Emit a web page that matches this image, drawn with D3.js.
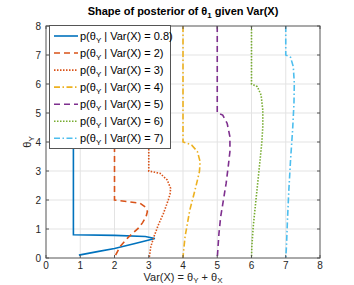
<!DOCTYPE html>
<html><head><meta charset="utf-8">
<script src="https://cdn.jsdelivr.net/npm/d3@7"></script>
<style>body{margin:0;background:#fff}svg{display:block;font-family:"Liberation Sans",Arial,sans-serif}</style>
</head><body><svg id="c" width="354" height="285"></svg>
<script>
const varX = [0.8, 2, 3, 4, 5, 6, 7];
const legendLabels = ["0.8", "2", "3", "4", "5", "6", "7"];
const xTicks = [0,1,2,3,4,5,6,7,8];
const yTicks = [0,1,2,3,4,5,6,7,8];
// curve points: x = Var(X) + scaled density, y = theta_Y
const c08x = [0.8, 0.8, 2.0, 2.9, 3.18, 2.6, 2.0, 1.5, 0.96];
const c08y = [8, 0.8, 0.78, 0.74, 0.67, 0.5, 0.33, 0.22, 0.1];
const c2x = [2, 2, 2.74, 2.9, 2.96, 2.92, 2.82, 2.69, 2.4, 2.16, 2.01, 2.0];
const c2y = [8, 2, 1.89, 1.76, 1.6, 1.42, 1.22, 1.02, 0.71, 0.39, 0.05, 0];
const c3x = [3, 3, 3.33, 3.54, 3.64, 3.62, 3.57, 3.43, 3.28, 3.15, 3.06, 3.02, 3.0];
const c3y = [8, 3, 2.92, 2.69, 2.4, 2.2, 2.0, 1.54, 1.14, 0.73, 0.39, 0.05, 0];
const c4x = [4, 4, 4.25, 4.42, 4.5, 4.48, 4.4, 4.3, 4.2, 4.13, 4.06, 4.01, 4.0];
const c4y = [8, 4, 3.9, 3.67, 3.32, 2.98, 2.58, 2.11, 1.66, 1.2, 0.73, 0.16, 0];
const c5x = [5, 5, 5.16, 5.29, 5.37, 5.37, 5.32, 5.26, 5.18, 5.1, 5.05, 5.01, 5.0];
const c5y = [8, 5, 4.93, 4.64, 4.18, 3.67, 3.15, 2.58, 2.0, 1.42, 0.85, 0.16, 0];
const c6x = [6, 6, 6.17, 6.28, 6.33, 6.33, 6.3, 6.25, 6.2, 6.15, 6.1, 6.05, 6.01, 6.0];
const c6y = [8, 6, 5.91, 5.62, 5.1, 4.53, 3.96, 3.38, 2.8, 2.23, 1.66, 1.08, 0.39, 0];
const c7x = [7, 7, 7.14, 7.22, 7.25, 7.24, 7.2, 7.14, 7.09, 7.05, 7.02, 7.0];
const c7y = [8, 7, 6.92, 6.6, 6.02, 5.33, 4.41, 3.38, 2.34, 1.31, 0.39, 0];

const curvesX = [c08x, c2x, c3x, c4x, c5x, c6x, c7x];
const curvesY = [c08y, c2y, c3y, c4y, c5y, c6y, c7y];
const colors = ["#0072BD", "#D95319", "#D95319", "#EDB120", "#7E2F8E", "#77AC30", "#4DBEEE"];
const dashes = [null, "6,4", "1.5,1.5", "6,2.5,1.5,2.5", "6,4", "1.5,1.5", "6,2.5,1.5,2.5"];

const svg = d3.select("#c");
const L = 46, R = 320, T = 26, B = 258;
const x = d3.scaleLinear().domain([0, 8]).range([L, R]);
const y = d3.scaleLinear().domain([0, 8]).range([B, T]);
const axCol = "#262626";

// grid
svg.append("g").selectAll("line").data(xTicks.slice(1, -1)).join("line")
  .attr("x1", d => x(d)).attr("x2", d => x(d)).attr("y1", T).attr("y2", B)
  .attr("stroke", "#e3e3e3").attr("stroke-width", 1);
svg.append("g").selectAll("line").data(yTicks.slice(1, -1)).join("line")
  .attr("y1", d => y(d)).attr("y2", d => y(d)).attr("x1", L).attr("x2", R)
  .attr("stroke", "#e3e3e3").attr("stroke-width", 1);

// curves
const line = d3.line().x(d => x(d[0])).y(d => y(d[1]));
curvesX.forEach((cx, i) => {
  const pts = cx.map((v, j) => [v, curvesY[i][j]]);
  svg.append("path").attr("d", line(pts)).attr("fill", "none")
    .attr("stroke", colors[i]).attr("stroke-width", 1.6)
    .attr("stroke-dasharray", dashes[i]);
});

// axes (ticks inside)
const ax = svg.append("g").attr("stroke", "#555").attr("stroke-width", 1).attr("fill", "none");
ax.append("rect").attr("x", L).attr("y", T).attr("width", R - L).attr("height", B - T);
xTicks.forEach(t => {
  ax.append("line").attr("x1", x(t)).attr("x2", x(t)).attr("y1", B).attr("y2", B - 3);
  ax.append("line").attr("x1", x(t)).attr("x2", x(t)).attr("y1", T).attr("y2", T + 3);
});
yTicks.forEach(t => {
  ax.append("line").attr("y1", y(t)).attr("y2", y(t)).attr("x1", L).attr("x2", L + 3);
  ax.append("line").attr("y1", y(t)).attr("y2", y(t)).attr("x1", R).attr("x2", R - 3);
});
svg.append("g").selectAll("text").data(xTicks).join("text")
  .attr("x", d => x(d)).attr("y", 269).attr("text-anchor", "middle")
  .attr("font-size", 10).attr("fill", axCol).text(d => d);
svg.append("g").selectAll("text").data(yTicks).join("text")
  .attr("x", 41).attr("y", d => y(d) + 3.5).attr("text-anchor", "end")
  .attr("font-size", 10).attr("fill", axCol).text(d => d);

// axis labels
const xl = svg.append("text").attr("x", 183).attr("y", 281).attr("text-anchor", "middle")
  .attr("font-size", 11).attr("fill", axCol);
xl.append("tspan").text("Var(X) = θ");
xl.append("tspan").attr("font-size", 8).attr("dy", 2).text("Y");
xl.append("tspan").attr("dy", -2).text(" + θ");
xl.append("tspan").attr("font-size", 8).attr("dy", 2).text("X");

const yl = svg.append("text").attr("transform", "translate(31,142) rotate(-90)")
  .attr("text-anchor", "middle").attr("font-size", 11).attr("fill", axCol);
yl.append("tspan").text("θ");
yl.append("tspan").attr("font-size", 8).attr("dy", 3).text("Y");

// title
const tt = svg.append("text").attr("x", 183).attr("y", 15).attr("text-anchor", "middle")
  .attr("font-size", 11).attr("font-weight", "bold").attr("fill", "#000");
tt.append("tspan").text("Shape of posterior of θ");
tt.append("tspan").attr("font-size", 8).attr("dy", 3).text("1");
tt.append("tspan").attr("dy", -3).text(" given Var(X)");

// legend
const lg = svg.append("g");
lg.append("rect").attr("x", 49.5).attr("y", 25.5).attr("width", 121).attr("height", 123)
  .attr("fill", "#fff").attr("stroke", "#555").attr("stroke-width", 1);
varX.forEach((v, i) => {
  const yy = 36 + i * 17.05;
  lg.append("line").attr("x1", 54).attr("x2", 78).attr("y1", yy).attr("y2", yy)
    .attr("stroke", colors[i]).attr("stroke-width", 1.6).attr("stroke-dasharray", dashes[i]);
  const t = lg.append("text").attr("x", 80).attr("y", yy + 4).attr("font-size", 11).attr("fill", "#000");
  t.append("tspan").text("p(θ");
  t.append("tspan").attr("font-size", 8).attr("dy", 3).text("Y");
  t.append("tspan").attr("dy", -3).text(" | Var(X) = " + legendLabels[i] + ")");
});
</script></body></html>
